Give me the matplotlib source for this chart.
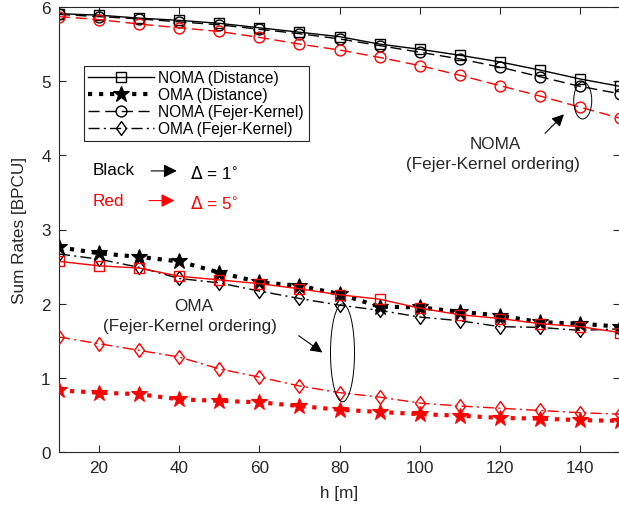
import matplotlib
matplotlib.use("Agg")
import matplotlib.pyplot as plt
from matplotlib.patches import Ellipse

plt.rcParams['font.family'] = ['Liberation Sans', 'DejaVu Sans']

h = [10, 20, 30, 40, 50, 60, 70, 80, 90, 100, 110, 120, 130, 140, 150]

noma_dist_b = [5.91, 5.89, 5.85, 5.82, 5.78, 5.72, 5.66, 5.60, 5.50, 5.43, 5.35, 5.26, 5.15, 5.03, 4.93]
noma_fk_b = [5.90, 5.87, 5.84, 5.80, 5.76, 5.70, 5.64, 5.57, 5.48, 5.39, 5.30, 5.19, 5.06, 4.93, 4.83]
noma_fk_r = [5.87, 5.83, 5.77, 5.72, 5.67, 5.59, 5.50, 5.42, 5.32, 5.21, 5.08, 4.94, 4.80, 4.65, 4.50]
noma_dist_r = [2.57, 2.51, 2.48, 2.37, 2.32, 2.27, 2.20, 2.12, 2.06, 1.94, 1.85, 1.80, 1.73, 1.69, 1.61]
oma_dist_b = [2.76, 2.68, 2.63, 2.57, 2.42, 2.29, 2.24, 2.13, 1.96, 1.95, 1.89, 1.84, 1.75, 1.73, 1.69]
oma_fk_b = [2.67, 2.60, 2.49, 2.34, 2.28, 2.17, 2.07, 1.98, 1.91, 1.82, 1.77, 1.69, 1.68, 1.64, 1.66]
oma_fk_r = [1.55, 1.46, 1.37, 1.28, 1.12, 1.01, 0.89, 0.80, 0.74, 0.66, 0.62, 0.59, 0.56, 0.53, 0.51]
oma_dist_r = [0.83, 0.80, 0.78, 0.71, 0.69, 0.67, 0.62, 0.57, 0.54, 0.51, 0.49, 0.46, 0.45, 0.43, 0.42]

legend_labels = ['NOMA (Distance)', 'OMA (Distance)', 'NOMA (Fejer-Kernel)', 'OMA (Fejer-Kernel)']

fig = plt.figure(figsize=(6.19, 5.06), dpi=100)
ax = fig.add_axes([59/619, (506-453)/506, 561/619, 445/506])

red = '#ff0000'
axcol = '#262626'
FS = 12.3

diamond = [(0, 1), (0.72, 0), (0, -1), (-0.72, 0), (0, 1)]

def plot_set(color, nd, od, nf, of, zbase):
    l1, = ax.plot(h, nd, '-', color=color, lw=1.0, marker='s', ms=6.5, mfc='none', mec=color, mew=1.0, zorder=zbase)
    l2, = ax.plot(h, od, ':', color=color, lw=3.0, marker='*', ms=12, mfc=color, mec=color, mew=0.8, zorder=zbase)
    l3, = ax.plot(h, nf, '--', color=color, lw=1.0, marker='o', ms=7.8, mfc='none', mec=color, mew=1.0, zorder=zbase, dashes=(8, 4))
    l4, = ax.plot(h, of, '-.', color=color, lw=1.0, marker=diamond, ms=10, mfc='none', mec=color, mew=1.0, zorder=zbase, dashes=(8, 3, 1.5, 3))
    return [l1, l2, l3, l4]

black_lines = plot_set('black', noma_dist_b, oma_dist_b, noma_fk_b, oma_fk_b, 2)
red_lines = plot_set(red, noma_dist_r, oma_dist_r, noma_fk_r, oma_fk_r, 3)

ax.set_xlim(10, 150)
ax.set_ylim(0, 6)
ax.set_xticks([20, 40, 60, 80, 100, 120, 140])
ax.set_yticks([0, 1, 2, 3, 4, 5, 6])
ax.tick_params(direction='in', top=True, right=True, labelsize=FS, colors=axcol, length=5, width=0.8, pad=6)
for s in ax.spines.values():
    s.set_color(axcol)
    s.set_linewidth(0.8)

ax.set_xlabel('h [m]', fontsize=FS, color=axcol, labelpad=7)
ax.set_ylabel('Sum Rates [BPCU]', fontsize=FS, color=axcol, labelpad=10)

leg = ax.legend(black_lines, legend_labels, loc='upper left', bbox_to_anchor=(0.044, 0.868),
                fontsize=11.2, frameon=True, fancybox=False, edgecolor=axcol, framealpha=1,
                handlelength=4.2, borderpad=0.3, labelspacing=0.12, handletextpad=0.3, borderaxespad=0)
leg.get_frame().set_linewidth(0.8)
leg.set_zorder(10)

# NOMA annotation
ax.add_patch(Ellipse((140.7, 4.74), 4.5, 0.5, fill=False, ec='black', lw=0.7, zorder=5))
ax.annotate('', xy=(136.5, 4.58), xytext=(130.8, 4.27),
            arrowprops=dict(arrowstyle='-|>', color='black', lw=0.8, mutation_scale=18))
ax.text(118.8, 4.16, 'NOMA', ha='center', va='center', fontsize=FS, color=axcol)
ax.text(118.4, 3.89, '(Fejer-Kernel ordering)', ha='center', va='center', fontsize=FS, color=axcol)

# OMA annotation
ax.add_patch(Ellipse((80.75, 1.337), 6.0, 1.32, fill=False, ec='black', lw=0.7, zorder=5))
ax.annotate('', xy=(76.3, 1.32), xytext=(69.25, 1.59),
            arrowprops=dict(arrowstyle='-|>', color='black', lw=0.8, mutation_scale=18))
ax.text(43.6, 1.97, 'OMA', ha='center', va='center', fontsize=FS, color=axcol)
ax.text(42.6, 1.71, '(Fejer-Kernel ordering)', ha='center', va='center', fontsize=FS, color=axcol)

# Black / Red
ax.text(18.4, 3.81, 'Black', ha='left', va='center', fontsize=FS, color='black')
ax.annotate('', xy=(40.1, 3.79), xytext=(32.3, 3.79),
            arrowprops=dict(arrowstyle='-|>', color='black', lw=0.8, mutation_scale=20))
ax.text(42.6, 3.77, r'$\Delta$ = 1$^{\circ}$', ha='left', va='center', fontsize=FS, color='black')
ax.text(18.4, 3.39, 'Red', ha='left', va='center', fontsize=FS, color=red)
ax.annotate('', xy=(39.5, 3.39), xytext=(31.75, 3.39),
            arrowprops=dict(arrowstyle='-|>', color=red, lw=0.8, mutation_scale=20))
ax.text(42.6, 3.37, r'$\Delta$ = 5$^{\circ}$', ha='left', va='center', fontsize=FS, color=red)

fig.savefig('out.png', dpi=100)
